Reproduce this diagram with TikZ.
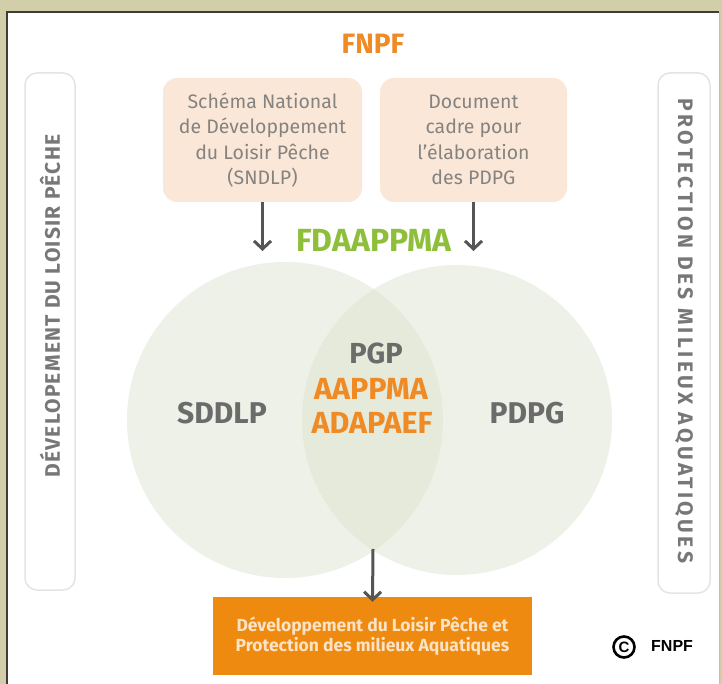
\documentclass[tikz,border=0pt]{standalone}
\usepackage{fontspec}
\setmainfont{Fira Sans}
\newfontfamily\narrowfont{Liberation Sans}
\usetikzlibrary{arrows.meta}
\definecolor{khaki}{HTML}{D3CEAA}
\definecolor{frameline}{HTML}{3E3D35}
\definecolor{peach}{HTML}{FBE7D8}
\definecolor{boxtext}{HTML}{858380}
\definecolor{circfill}{HTML}{EEF1E7}
\definecolor{lensfill}{HTML}{E5EADA}
\definecolor{darktext}{HTML}{6B6B6B}
\definecolor{orangetxt}{HTML}{F08A24}
\definecolor{greentxt}{HTML}{8DBF3A}
\definecolor{orangebox}{HTML}{EE8A10}
\definecolor{creamtxt}{HTML}{FCE3C6}
\definecolor{arrowgray}{HTML}{555555}
\definecolor{barborder}{HTML}{E4E4E4}
\definecolor{bartext}{HTML}{777777}
\begin{document}
\begin{tikzpicture}[x=1pt,y=-1pt,
  topbox/.style={fill=peach, rounded corners=14pt, align=center, text=boxtext,
    font=\fontsize{19.5}{25.5}\selectfont, inner sep=0pt},
  sidebar/.style={fill=white, draw=barborder, line width=1.5pt, rounded corners=12pt},
  sidetext/.style={text=bartext, font=\bfseries\fontsize{21}{21}\selectfont, inner sep=0pt},
  circlbl/.style={text=darktext, font=\bfseries\fontsize{30}{30}\selectfont, inner sep=0pt},
  orlbl/.style={text=orangetxt, font=\bfseries\fontsize{30.5}{30}\selectfont, inner sep=0pt},
  downarrow/.style={draw=arrowgray, line width=3pt, -{Straight Barb[length=8pt,width=17pt,line width=3pt]}}
]
\useasboundingbox (0,0) rectangle (722,684);
% background and frame
\fill[khaki] (0,0) rectangle (722,684);
\fill[white] (7,12) rectangle (719,684);
\draw[frameline, line width=2.5pt] (7,684) -- (7,12) -- (719,12);
\draw[black!25, line width=1pt] (719,12) -- (719,684);

% title
\node[text=orangetxt, font=\bfseries\fontsize{28}{28}\selectfont, inner sep=0pt] (fnpf) at (373,44) {FNPF};

% side bars
\node[sidebar, minimum width=50pt, minimum height=517pt] (lbar) at (50,331.5) {};
\node[sidetext, rotate=90] (ltext) at (50,306) {\addfontfeatures{LetterSpace=6}DÉVELOPEMENT DU LOISIR PÊCHE};
\node[sidebar, minimum width=52pt, minimum height=520pt] (rbar) at (684,333) {};
\node[sidetext, rotate=-90] (rtext) at (684,331) {\addfontfeatures{LetterSpace=16}PROTECTION DES MILIEUX AQUATIQUES};

% top boxes
\node[topbox, minimum width=199pt, minimum height=124pt] (boxL) at (262.5,140)
  {Schéma National\\de Développement\\du Loisir Pêche\\(SNDLP)};
\node[topbox, minimum width=187pt, minimum height=124pt] (boxR) at (473.5,140)
  {Document\\cadre pour\\l’élaboration\\des PDPG};

% circles
\fill[circfill] (285,420) circle (158);
\fill[circfill] (457,420) circle (155);
\begin{scope}
  \clip (285,420) circle (158);
  \fill[lensfill] (457,420) circle (155);
\end{scope}
\node[minimum size=316pt, circle, inner sep=0pt] (cL) at (285,420) {};
\node[minimum size=310pt, circle, inner sep=0pt] (cR) at (457,420) {};

% arrows from boxes
\coordinate (aL) at (262.5,251);
\coordinate (aR) at (473.5,251);
\draw[downarrow] (boxL.south) -- (aL);
\draw[downarrow] (boxR.south) -- (aR);
\node[text=greentxt, font=\bfseries\fontsize{32}{32}\selectfont, inner sep=0pt] (fda) at (374,240) {FDAAPPMA};

% circle labels
\node[circlbl] (sddlp) at (222,413) {SDDLP};
\node[circlbl] (pdpg) at (527,413) {PDPG};
\node[circlbl, font=\bfseries\fontsize{29}{29}\selectfont] (pgp) at (376,353) {PGP};
\node[orlbl] (aappma) at (371,389) {AAPPMA};
\node[orlbl] (adapaef) at (372,423) {ADAPAEF};

% bottom box
\node[fill=orangebox, minimum width=319pt, minimum height=78pt, align=center, text=creamtxt,
  font=\bfseries\fontsize{17.5}{20.5}\selectfont, inner sep=0pt] (out) at (372.5,636)
  {Développement du Loisir Pêche et\\Protection des milieux Aquatiques};
\coordinate (lensbot) at (373,549);
\draw[downarrow] (lensbot) -- ([yshift=-5pt]out.north);

% copyright
\node[circle, draw=black, line width=2.6pt, minimum size=21pt, inner sep=0pt,
  font=\narrowfont\bfseries\fontsize{15}{15}\selectfont] (copy) at (624,647) {C};
\node[font=\narrowfont\bfseries\fontsize{16}{16}\selectfont, inner sep=0pt, anchor=west] (copyt) at (651,646) {FNPF};
\end{tikzpicture}
\end{document}
